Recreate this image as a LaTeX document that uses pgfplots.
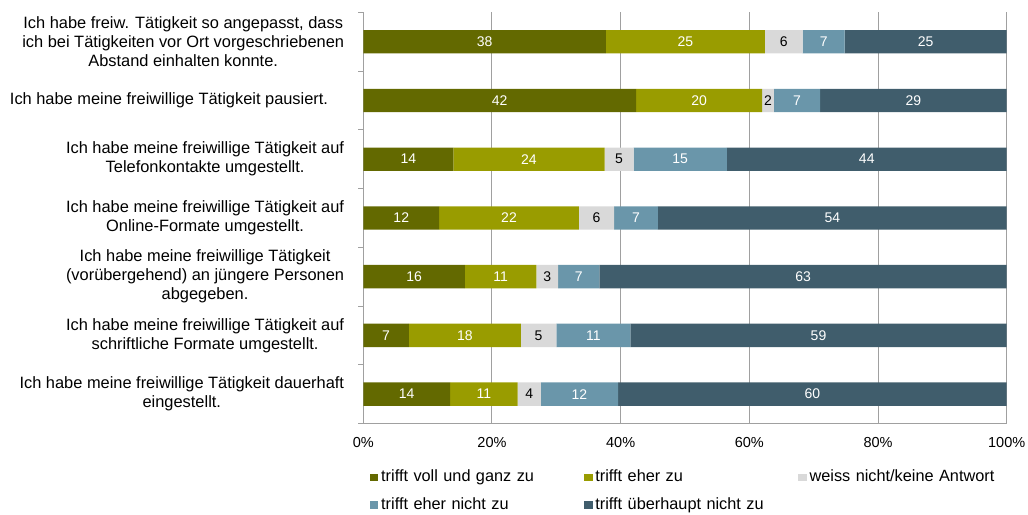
\documentclass[border=0pt]{standalone}
\usepackage{pgfplots}
\pgfplotsset{compat=1.18}
\usepackage{pgfplotstable}
\usepackage{fontspec}
\setmainfont{Liberation Sans}
\definecolor{cA}{HTML}{636900}
\definecolor{cB}{HTML}{999C00}
\definecolor{cC}{HTML}{D9D9D9}
\definecolor{cD}{HTML}{6A96AA}
\definecolor{cE}{HTML}{405D6C}
\definecolor{gridg}{HTML}{A0A0A0}

\pgfplotstableread{
row a b c d e la lb lc ld le
6 37.7 24.7 5.9 6.5 25.2 38 25 6 7 25
5 42.4 19.6 1.8 7.2 29.0 42 20 2 7 29
4 14.0 23.5 4.5 14.5 43.5 14 24 5 15 44
3 11.8 21.7 5.5 6.8 54.2 12 22 6 7 54
2 15.8 11.1 3.4 6.4 63.3 16 11 3 7 63
1 7.1 17.4 5.5 11.5 58.5 7 18 5 11 59
0 13.5 10.5 3.6 12.0 60.4 14 11 4 12 60
}\data

\begin{document}
\begin{tikzpicture}
\useasboundingbox (-363.3pt,-90.5pt) rectangle (664.7pt,423.5pt);
\begin{axis}[
  at={(0pt,0pt)}, anchor=south west,
  scale only axis, width=643.4pt, height=411.2pt,
  xbar stacked, bar width=23.3pt,
  xmin=0, xmax=100, ymin=-0.5, ymax=6.5,
  axis lines=left, axis line style={-, draw=gridg, line width=1pt},
  xtick={0,20,...,100},
  xticklabel={\pgfmathprintnumber[assume math mode=true]{\tick}\%},
  xticklabel style={font=\fontsize{14.5}{17}\selectfont, anchor=base, inner sep=0pt, yshift=-24pt},
  ytick={0,...,6},
  yticklabels={
    {Ich habe meine freiwillige Tätigkeit dauerhaft\\eingestellt.},
    {Ich habe meine freiwillige Tätigkeit auf\\schriftliche Formate umgestellt.},
    {Ich habe meine freiwillige Tätigkeit\\(vorübergehend) an jüngere Personen\\abgegeben.},
    {Ich habe meine freiwillige Tätigkeit auf\\Online-Formate umgestellt.},
    {Ich habe meine freiwillige Tätigkeit auf\\Telefonkontakte umgestellt.},
    {Ich habe meine freiwillige Tätigkeit pausiert.\hspace*{16pt}},
    {Ich habe freiw. Tätigkeit so angepasst, dass\\ich bei Tätigkeiten vor Ort vorgeschriebenen\\Abstand einhalten konnte.}
  },
  yticklabel style={font=\fontsize{16.4}{19}\selectfont, align=center, anchor=east, inner sep=0pt, xshift=-19pt},
  minor ytick={-0.5,0.5,...,6.5},
  major tick length=0pt, minor tick length=5pt, tick align=outside,
  tick style={draw=gridg, line width=1pt},
  xmajorgrids, major grid style={draw=gridg, line width=1pt},
  legend columns=3,
  legend image code/.code={\fill[#1] (0pt,0.5pt) rectangle (8.5pt,8pt);},
  legend style={at={(0,0)}, anchor=north west, xshift=6.7pt, yshift=-46.2pt,
    draw=none, fill=none, inner sep=0pt, outer sep=0pt, row sep=11.5pt, column sep=0pt,
    font=\fontsize{16.3}{19}\selectfont,
    nodes={text width=203pt, align=left, inner sep=0pt, text height=12pt, text depth=4pt, anchor=base west},
    /tikz/every odd column/.append style={column sep=2.7pt}},
  every node near coord/.append style={anchor=center, font=\fontsize{14}{16}\selectfont},
  nodes near coords={\pgfplotspointmeta},
  point meta=explicit symbolic,
]
\addplot[fill=cA, draw=none,
  every node near coord/.append style={white}] table[x=a, y=row, meta=la]{\data};
\addplot[fill=cB, draw=none,
  every node near coord/.append style={white}] table[x=b, y=row, meta=lb]{\data};
\addplot[fill=cC, draw=none,
  every node near coord/.append style={black}] table[x=c, y=row, meta=lc]{\data};
\addplot[fill=cD, draw=none,
  every node near coord/.append style={white}] table[x=d, y=row, meta=ld]{\data};
\addplot[fill=cE, draw=none,
  every node near coord/.append style={white}] table[x=e, y=row, meta=le]{\data};
\legend{trifft voll und ganz zu, trifft eher zu, weiss nicht/keine Antwort, trifft eher nicht zu, trifft überhaupt nicht zu}
\end{axis}
\end{tikzpicture}
\end{document}
